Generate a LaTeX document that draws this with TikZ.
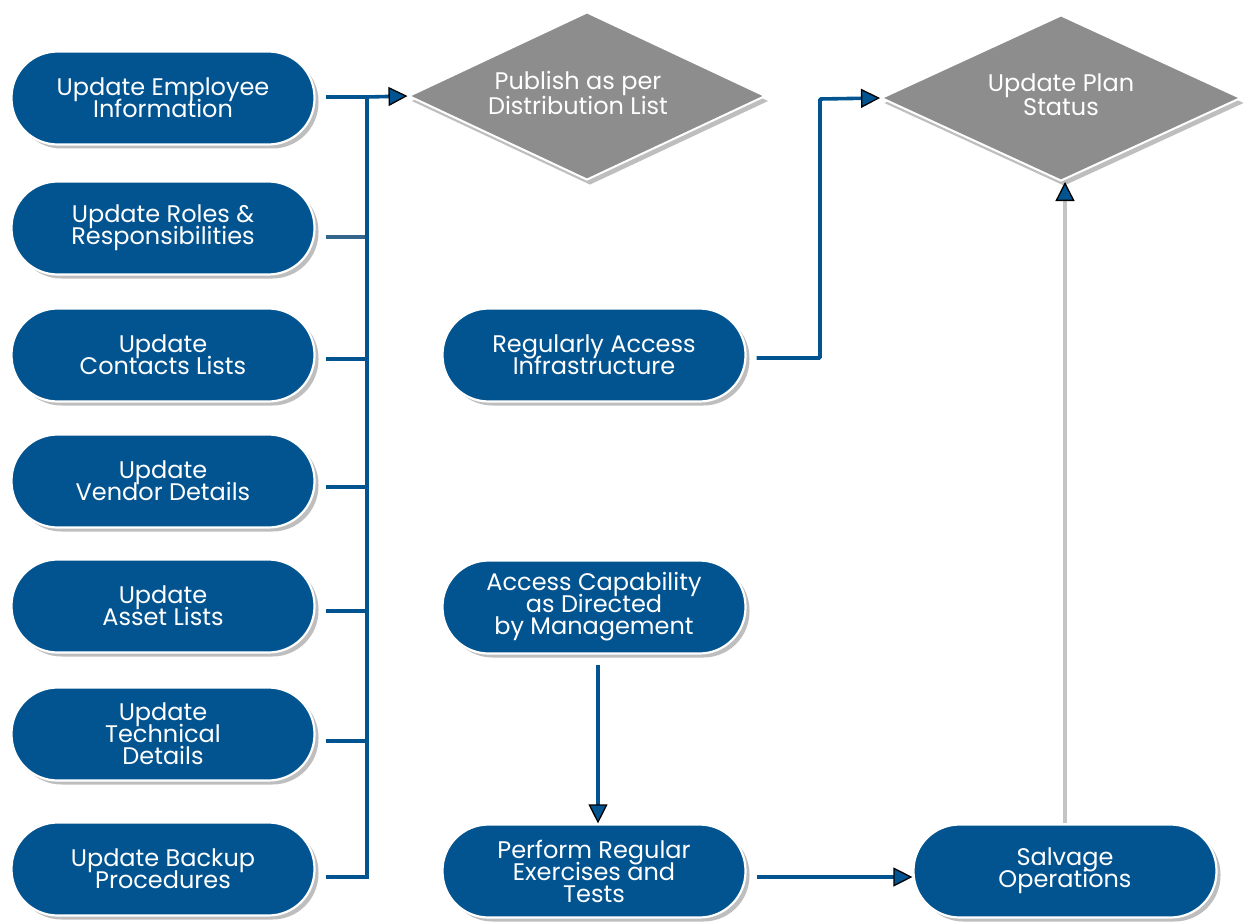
\documentclass[tikz,border=0pt]{standalone}
\usepackage{fontspec}
\setmainfont{Poppins}
\usetikzlibrary{arrows.meta,shapes.geometric,shadows}
\definecolor{pillblue}{RGB}{2,84,145}
\definecolor{diagray}{RGB}{141,141,141}
\definecolor{shadegray}{RGB}{190,190,190}
\definecolor{linkgray}{RGB}{196,196,196}
\newcommand\labeltext[1]{\begin{tabular}{@{}c@{}}#1\end{tabular}}
\newcommand\boxfont{\fontsize{24}{22}\selectfont\lineskiplimit=-40pt\relax}
\tikzset{
  pill/.style={rectangle, rounded corners=46pt, minimum width=303pt, minimum height=93pt,
    fill=pillblue, draw=white, line width=2.2pt, text=white, align=center, inner sep=0pt,
    font=\boxfont,
    drop shadow={shadow xshift=4pt, shadow yshift=-4pt, fill=shadegray, opacity=1}},
  decision/.style={diamond, aspect=2.1, minimum width=357pt, minimum height=168pt, inner sep=0pt,
    fill=diagray, draw=white, line width=2pt, text=white, align=center,
    font=\fontsize{24}{22}\selectfont,
    drop shadow={shadow xshift=3pt, shadow yshift=-5pt, fill=shadegray, opacity=1}},
  conn/.style={draw=pillblue, line width=3.6pt},
  tip/.style={-{Triangle[length=19pt,width=19pt,color=black,fill=pillblue,line width=1.3pt]}},
}
\begin{document}
\begin{tikzpicture}[x=1pt,y=-1pt]
\useasboundingbox (0,0) rectangle (1245,923);

% left column of update tasks
\node[pill] (e1) at (163,98)  {Update Employee\\Information};
\node[pill] (e2) at (163,228) {Update Roles \&\\Responsibilities};
\node[pill] (e3) at (163,355) {Update\\Contacts Lists};
\node[pill] (e4) at (163,481) {Update\\Vendor Details};
\node[pill] (e5) at (163,606) {Update\\Asset Lists};
\node[pill] (e6) at (163,734) {Update\\Technical\\Details};
\node[pill] (e7) at (163,869) {Update Backup\\Procedures};

% middle and right column
\node[pill] (ra) at (594,355) {Regularly Access\\Infrastructure};
\node[pill] (ac) at (594,607) {Access Capability\\as Directed\\by Management};
\node[pill] (pr) at (594,871) {Perform Regular\\Exercises and\\Tests};
\node[pill] (sv) at (1065,871) {Salvage\\Operations};

% decisions
\node[decision] (pub) at (587,96) {\raisebox{6pt}{\labeltext{Publish as per\\Distribution List}}\hspace*{18pt}};
\node[decision, minimum width=360pt, minimum height=166pt] (ups) at (1061,98) {\raisebox{2pt}{\labeltext{Update Plan\\Status}}};

% collecting bus on the left
\coordinate (bus) at (367,97);
\path ([shift={(10,-1)}]e1.east) coordinate (c1)
      ([shift={(10,9)}]e2.east) coordinate (c2)
      ([shift={(10,4)}]e3.east) coordinate (c3)
      ([shift={(10,6)}]e4.east) coordinate (c4)
      ([shift={(10,5)}]e5.east) coordinate (c5)
      ([shift={(10,7)}]e6.east) coordinate (c6)
      ([shift={(10,8)}]e7.east) coordinate (c7);
\draw[conn] (c1) -- (bus);
\draw[conn, draw=pillblue!60!gray] (c2) -- (c2 -| bus);
\foreach \i in {3,...,7} \draw[conn] (c\i) -- (c\i -| bus);
\draw[conn, line cap=rect] (bus) -- (c7 -| bus);
\draw[conn, tip] (bus) -- (pub.west);

% infrastructure to plan status
\coordinate (ra1) at ([shift={(10,3)}]ra.east);
\coordinate (bend) at (820,99);
\draw[conn, tip, rounded corners=1pt] (ra1) -| (bend) -- (ups.west);

% capability to exercises
\coordinate (ac1) at ([yshift=-10pt]ac.south);
\draw[conn, tip] ([xshift=4pt]ac1) -- ([xshift=4pt]pr.north);

% exercises to salvage
\coordinate (pr1) at ([shift={(10,6)}]pr.east);
\draw[conn, tip] (pr1) -- (pr1 -| sv.west);

% salvage back up to plan status
\draw[draw=linkgray, line width=3.4pt, -{Triangle[length=19pt,width=19pt,color=black,fill=pillblue,line width=1.3pt]}]
  (sv.north) -- (sv.north |- ups.south);
\end{tikzpicture}
\end{document}
